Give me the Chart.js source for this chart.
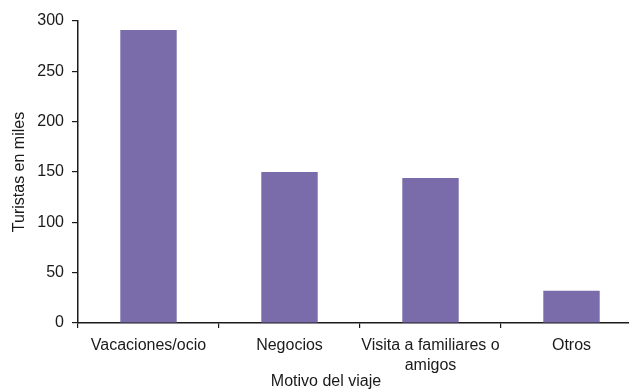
<!DOCTYPE html>
<html>
<head>
<meta charset="utf-8">
<script src="https://cdn.jsdelivr.net/npm/chart.js@4/dist/chart.umd.min.js"></script>
<style>
  html, body { margin: 0; padding: 0; background: #fff; overflow: hidden; }
  #wrap { width: 650px; height: 390px; }
</style>
</head>
<body>
<div id="wrap"><canvas id="chart" width="650" height="390"></canvas></div>
<script>
const categories = ['Vacaciones/ocio', 'Negocios', ['Visita a familiares o', 'amigos'], 'Otros']
const tourists = [291, 150, 144, 32]
const yTicks = [0, 50, 100, 150, 200, 250, 300]

const FONT = '"Liberation Sans", Arial, sans-serif'
const INK = '#1a1a1a'

// x axis title is drawn off-centre in the original, so place it by hand
const xTitle = {
  id: 'xTitle',
  afterDraw(chart) {
    const ctx = chart.ctx
    ctx.save()
    ctx.font = '16px ' + FONT
    ctx.fillStyle = INK
    ctx.textAlign = 'center'
    ctx.textBaseline = 'middle'
    ctx.fillText('Motivo del viaje', 326, 382)
    ctx.restore()
  }
}

new Chart(document.getElementById('chart'), {
  type: 'bar',
  data: {
    labels: categories,
    datasets: [{
      data: tourists,
      backgroundColor: '#7A6BAA',
      borderWidth: 0,
      barPercentage: 0.4,
      categoryPercentage: 1
    }]
  },
  options: {
    responsive: false,
    animation: false,
    layout: { padding: { top: 21, right: 8, left: 0, bottom: 0 } },
    plugins: { legend: { display: false }, tooltip: { enabled: false } },
    scales: {
      x: {
        grid: { offset: true, drawOnChartArea: false, drawTicks: true, tickLength: 5, color: INK, lineWidth: 1.2 },
        border: { color: INK, width: 1.5 },
        ticks: { color: INK, font: { family: FONT, size: 16, lineHeight: 1.25 }, padding: 8, maxRotation: 0, autoSkip: false },
        afterFit(scale) { scale.height = 67 }
      },
      y: {
        min: 0,
        max: 300,
        afterBuildTicks(scale) { scale.ticks = yTicks.map(v => ({ value: v })) },
        grid: { drawOnChartArea: false, drawTicks: true, tickLength: 6, color: INK, lineWidth: 1.2 },
        border: { color: INK, width: 1.5 },
        ticks: { color: INK, font: { family: FONT, size: 16 }, padding: 8 },
        title: { display: true, text: 'Turistas en miles', color: INK, font: { family: FONT, size: 16 }, padding: { top: 10, bottom: 0 } },
        afterFit(scale) { scale.width = 78 }
      }
    }
  },
  plugins: [xTitle]
})
</script>
</body>
</html>
